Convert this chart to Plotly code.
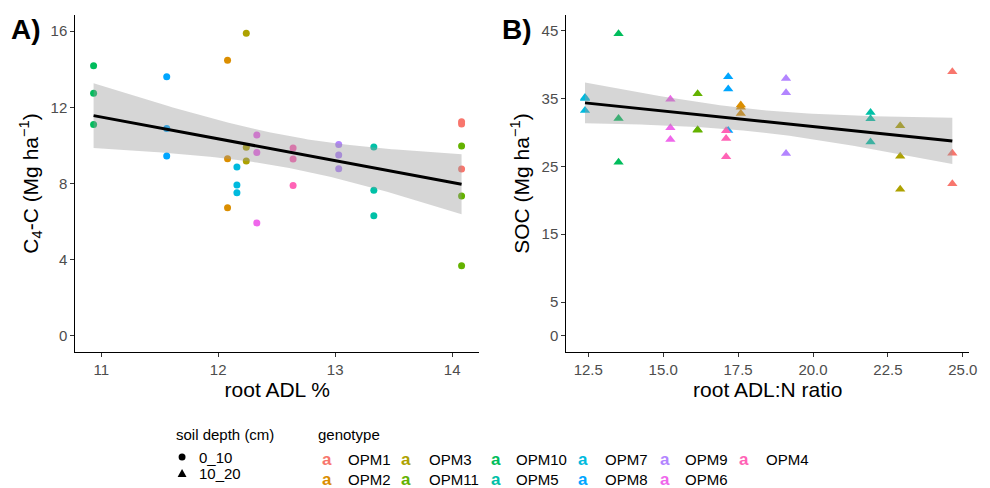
import numpy as np
import plotly.graph_objects as go

# ---------------- data ----------------
genotypes = ["OPM1", "OPM2", "OPM3", "OPM11", "OPM10", "OPM5", "OPM7", "OPM8", "OPM9", "OPM6", "OPM4"]
colors = ["#F8766D", "#DB8E00", "#AEA200", "#64B200", "#00BD5C", "#00C1A7",
          "#00BADE", "#00A6FF", "#B385FF", "#EF67EB", "#FF63B6"]

# Panel A: root ADL % vs C4-C (0_10 cm)
adl_pct = [14.08, 12.08, 12.24, 14.08, 10.935, 13.33, 12.16, 11.56, 13.03, 12.33, 12.64]
c4c = [
    [11.24, 11.12, 8.76],   # OPM1
    [14.46, 9.30, 6.73],    # OPM2
    [15.88, 9.90, 9.18],    # OPM3
    [9.97, 7.34, 3.69],     # OPM11
    [14.18, 12.73, 11.10],  # OPM10
    [9.91, 7.64, 6.31],     # OPM5
    [8.87, 7.92, 7.52],     # OPM7
    [13.60, 10.88, 9.44],   # OPM8
    [10.05, 9.49, 8.78],    # OPM9
    [10.54, 9.62, 5.93],    # OPM6
    [9.86, 9.28, 7.89],     # OPM4
]

# Panel B: root ADL:N ratio vs SOC (10_20 cm)
adl_n = [24.65, 17.59, 22.91, 16.15, 13.51, 21.92, 12.39, 17.17, 19.10, 15.24, 17.10]
soc = [
    [38.94, 26.94, 22.42],  # OPM1
    [34.02, 33.70, 32.80],  # OPM2
    [30.97, 26.50, 21.63],  # OPM3
    [35.69, 30.38, 30.30],  # OPM11
    [44.54, 32.05, 25.61],  # OPM10
    [32.94, 32.00, 28.60],  # OPM5
    [35.15, 35.00, 33.24],  # OPM7
    [38.20, 36.38, 30.28],  # OPM8
    [37.95, 35.84, 26.89],  # OPM9
    [34.90, 30.68, 28.96],  # OPM6
    [30.24, 29.10, 26.40],  # OPM4
]

legend_order = [["OPM1", "OPM2"], ["OPM3", "OPM11"], ["OPM10", "OPM5"],
                ["OPM7", "OPM8"], ["OPM9", "OPM6"], ["OPM4"]]
depth_labels = ["0_10", "10_20"]

# ---------------- helpers ----------------
OFF = 8                      # page body margin of the html page
W, H = 990 - OFF, 488 - OFF  # figure size so it fits in the window
FONT = "Liberation Sans, Arial, sans-serif"


def px(x):
    return (x - OFF) / W


def py(y):
    return 1 - (y - OFF) / H


def lm_ci(xs, ys, tcrit):
    xs = np.asarray(xs, float)
    ys = np.asarray(ys, float)
    n = len(xs)
    b, a = np.polyfit(xs, ys, 1)
    resid = ys - (a + b * xs)
    s = np.sqrt(np.sum(resid ** 2) / (n - 2))
    xbar = xs.mean()
    sxx = np.sum((xs - xbar) ** 2)
    xg = np.linspace(xs.min(), xs.max(), 80)
    yg = a + b * xg
    se = s * np.sqrt(1 / n + (xg - xbar) ** 2 / sxx)
    return xg, yg, yg - tcrit * se, yg + tcrit * se


fig = go.Figure()

# points
allA_x, allA_y, allB_x, allB_y = [], [], [], []
for g, col, xa, ya, xb, yb in zip(genotypes, colors, adl_pct, c4c, adl_n, soc):
    fig.add_trace(go.Scatter(x=[xa] * len(ya), y=ya, mode="markers", xaxis="x", yaxis="y",
                             marker=dict(symbol="circle", size=7, color=col),
                             showlegend=False, hoverinfo="x+y"))
    fig.add_trace(go.Scatter(x=[xb] * len(yb), y=yb, mode="markers", xaxis="x2", yaxis="y2",
                             marker=dict(symbol="triangle-up", size=9, color=col),
                             showlegend=False, hoverinfo="x+y"))
    allA_x += [xa] * len(ya)
    allA_y += ya
    allB_x += [xb] * len(yb)
    allB_y += yb

# regression + 95% CI ribbons (drawn on top, like geom_smooth)
for xs, ys, xa, ya in [(allA_x, allA_y, "x", "y"), (allB_x, allB_y, "x2", "y2")]:
    xg, yg, lo, hi = lm_ci(xs, ys, 2.0395)
    fig.add_trace(go.Scatter(x=np.concatenate([xg, xg[::-1]]), y=np.concatenate([hi, lo[::-1]]),
                             fill="toself", fillcolor="rgba(153,153,153,0.4)", mode="lines",
                             line=dict(width=0), xaxis=xa, yaxis=ya, showlegend=False,
                             hoverinfo="skip"))
    fig.add_trace(go.Scatter(x=xg, y=yg, mode="lines", line=dict(color="black", width=3),
                             xaxis=xa, yaxis=ya, showlegend=False, hoverinfo="skip"))

axis_common = dict(showline=True, linecolor="black", linewidth=1.3, ticks="outside",
                   ticklen=4, tickwidth=1.1, tickcolor="#333333", showgrid=False, zeroline=False,
                   tickfont=dict(family=FONT, size=15, color="#4D4D4D"),
                   title_font=dict(family=FONT, size=21, color="black"))

yd = [py(352), py(15)]
fig.update_layout(
    width=W, height=H, margin=dict(l=0, r=0, t=0, b=0),
    plot_bgcolor="white", paper_bgcolor="white",
    xaxis=dict(domain=[px(76), px(483)], range=[10.78, 14.23], tickvals=[11, 12, 13, 14],
               anchor="y", title=dict(text="root ADL %", standoff=2), **axis_common),
    yaxis=dict(domain=yd, range=[-0.84, 16.84], tickvals=[0, 4, 8, 12, 16], anchor="x",
               title=dict(text="C<sub>4</sub>-C (Mg ha<sup>−1</sup>)", standoff=6), **axis_common),
    xaxis2=dict(domain=[px(571), px(977)], range=[11.77, 25.21],
                tickvals=[12.5, 15, 17.5, 20, 22.5, 25], tickformat=".1f",
                anchor="y2", title=dict(text="root ADL:N ratio", standoff=2), **axis_common),
    yaxis2=dict(domain=yd, range=[-2.36, 47.3], tickvals=[0, 5, 15, 25, 35, 45], anchor="x2",
                title=dict(text="SOC (Mg ha<sup>−1</sup>)", standoff=6), **axis_common),
)

ann = []
shapes = []
# panel tags
ann.append(dict(text="<b>A)</b>", x=px(9), y=py(30), xref="paper", yref="paper",
                xanchor="left", yanchor="middle", showarrow=False,
                font=dict(family=FONT, size=28, color="black")))
ann.append(dict(text="<b>B)</b>", x=px(504), y=py(30), xref="paper", yref="paper",
                xanchor="left", yanchor="middle", showarrow=False,
                font=dict(family=FONT, size=28, color="black")))

# soil depth legend
ann.append(dict(text="soil depth (cm)", x=px(175), y=py(434), xref="paper", yref="paper",
                xanchor="left", yanchor="middle", showarrow=False,
                font=dict(family=FONT, size=15, color="black")))
for lab, yy in zip(depth_labels, [457, 473]):
    ann.append(dict(text=lab, x=px(199), y=py(yy), xref="paper", yref="paper",
                    xanchor="left", yanchor="middle", showarrow=False,
                    font=dict(family=FONT, size=15, color="black")))
shapes.append(dict(type="circle", xref="paper", yref="paper",
                   x0=px(180), x1=px(187), y0=py(460.5), y1=py(453.5),
                   fillcolor="black", line=dict(width=0)))
shapes.append(dict(type="path", xref="paper", yref="paper",
                   path=f"M {px(179)} {py(477)} L {px(188)} {py(477)} L {px(183.5)} {py(469)} Z",
                   fillcolor="black", line=dict(width=0)))

# genotype legend
ann.append(dict(text="genotype", x=px(319), y=py(434), xref="paper", yref="paper",
                xanchor="left", yanchor="middle", showarrow=False,
                font=dict(family=FONT, size=15, color="black")))
col_glyph_x = [330, 409, 500, 588, 670, 750]
col_text_x = [349, 430, 518, 608, 689, 770]
row_y = [459, 479]
cmap = dict(zip(genotypes, colors))
for ci, names in enumerate(legend_order):
    for ri, name in enumerate(names):
        ann.append(dict(text="<b>a</b>", x=px(col_glyph_x[ci]), y=py(row_y[ri]),
                        xref="paper", yref="paper", xanchor="center", yanchor="middle",
                        showarrow=False, font=dict(family=FONT, size=17, color=cmap[name])))
        ann.append(dict(text=name, x=px(col_text_x[ci]), y=py(row_y[ri]),
                        xref="paper", yref="paper", xanchor="left", yanchor="middle",
                        showarrow=False, font=dict(family=FONT, size=15, color="black")))

fig.update_layout(annotations=ann, shapes=shapes)
fig.write_html("out.html")
